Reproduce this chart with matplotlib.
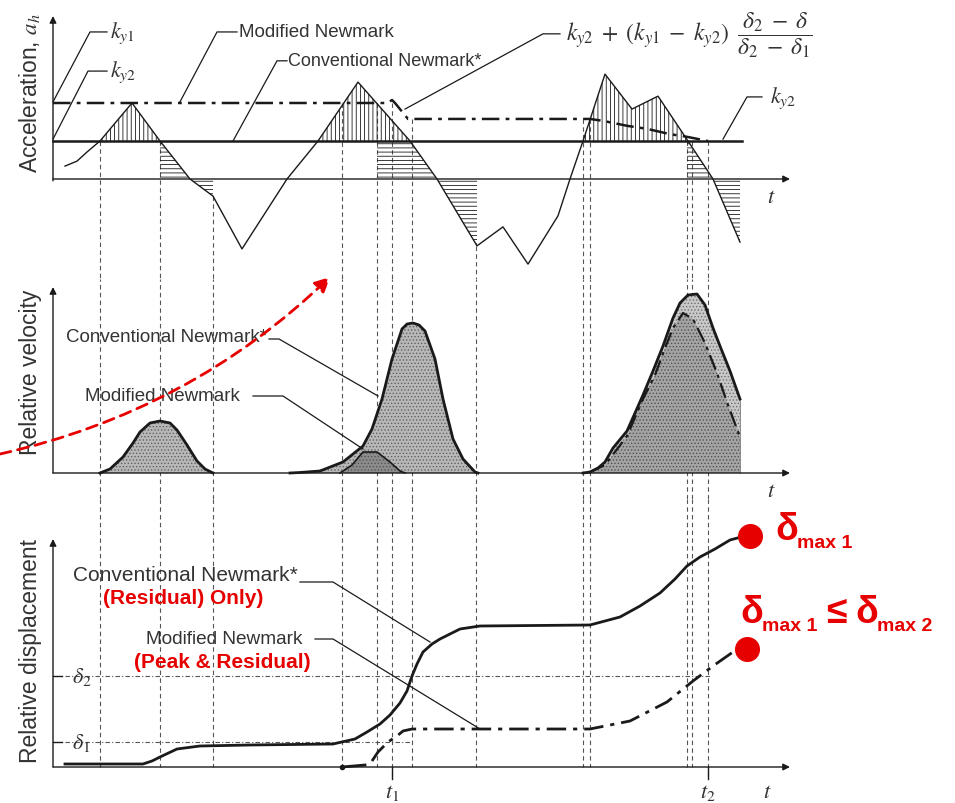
import matplotlib.pyplot as plt
import numpy as np

plt.rcParams['font.family'] = ['Liberation Sans', 'DejaVu Sans']
plt.rcParams['mathtext.fontset'] = 'stix'
plt.rcParams['hatch.linewidth'] = 0.6

#### data (time t, acceleration a, velocity v, displacement d : arbitrary units)
ky1, ky2 = 0.2, 0.1

acc_t = [1.2, 2.4, 3.4, 4.7, 7.9, 10.7, 13.7, 16.0, 18.9, 23.4, 26.5, 30.5, 35.7, 38.4,
         42.4, 45.0, 47.5, 50.5, 51.7, 53.0, 55.2, 57.9, 60.5, 63.5, 66.0, 68.7]
acc_a = [0.034, 0.047, 0.071, 0.100, 0.200, 0.100, 0.000, -0.045, -0.184, 0.000, 0.100,
         0.255, 0.100, 0.000, -0.176, -0.126, -0.224, -0.097, 0.000, 0.100, 0.276, 0.184,
         0.218, 0.100, 0.000, -0.166]

mod_ky_t = [0, 33.5, 33.9, 34.2, 35.5, 53.7, 55.0, 57.4, 59.4, 61.7, 63.4, 65.5]
mod_ky_a = [0.2, 0.2, 0.208, 0.2, 0.158, 0.158, 0.153, 0.140, 0.132, 0.118, 0.111, 0.100]
conv_ky_t = [0, 68.9]

# hatched windows below ky2 (horizontal hatch)
slide_win = [(10.7, 16.0), (32.4, 42.4), (63.4, 68.7)]

vel1_t = [4.7, 5.7, 7.0, 8.0, 8.7, 9.7, 10.7, 11.7, 12.4, 13.4, 14.4, 15.2, 16.0]
vel1_v = [0, 0.04, 0.16, 0.30, 0.41, 0.50, 0.52, 0.50, 0.43, 0.28, 0.12, 0.04, 0]
vel2_t = [23.7, 24.7, 26.7, 29.0, 31.0, 31.9, 32.9, 33.9, 34.9, 35.4, 36.0, 36.6, 37.2,
          38.2, 39.0, 40.0, 41.0, 42.2, 42.5]
vel2_v = [0, 0.005, 0.02, 0.11, 0.27, 0.44, 0.74, 1.14, 1.44, 1.49, 1.50, 1.48, 1.42,
          1.14, 0.74, 0.34, 0.14, 0.01, 0]
vel2m_t = [28.7, 29.9, 31.0, 32.4, 33.7, 34.7, 35.2]
vel2m_v = [0, 0.08, 0.21, 0.21, 0.11, 0.02, 0]
vel3_t = [53.0, 53.7, 54.5, 55.2, 56.0, 57.4, 59.0, 60.0, 61.0, 62.0, 62.7, 63.5, 64.4,
          65.2, 66.0, 66.7, 67.7, 68.7]
vel3_v = [0, 0.01, 0.05, 0.11, 0.25, 0.42, 0.78, 1.02, 1.27, 1.55, 1.70, 1.78, 1.79,
          1.68, 1.45, 1.27, 1.02, 0.74]
vel3m_t = [53.7, 55.2, 57.4, 59.0, 60.2, 61.2, 62.0, 63.0, 64.0, 65.2, 66.4, 67.5, 68.7]
vel3m_v = [0.01, 0.08, 0.37, 0.74, 0.98, 1.25, 1.45, 1.60, 1.54, 1.30, 1.00, 0.68, 0.36]

disp_t = [1.2, 9.0, 9.9, 10.7, 12.4, 14.7, 19.7, 28.0, 30.2, 31.4, 32.7, 33.7, 34.7, 35.4,
          35.9, 36.4, 37.0, 37.9, 38.7, 40.7, 42.7, 53.7, 56.7, 58.7, 60.7, 62.2, 63.4,
          64.7, 66.2, 67.7, 69.2]
disp_d = [0.03, 0.03, 0.06, 0.10, 0.18, 0.21, 0.22, 0.23, 0.28, 0.35, 0.43, 0.52, 0.64,
          0.76, 0.91, 1.03, 1.15, 1.23, 1.28, 1.38, 1.41, 1.42, 1.50, 1.61, 1.74, 1.88,
          2.01, 2.10, 2.18, 2.27, 2.31]
dispm0_t = [28.9, 31.2]
dispm0_d = [0, 0.02]
dispm_t = [31.9, 32.5, 33.5, 34.4, 35.0, 35.9, 42.7, 53.7, 57.7, 61.4, 64.0, 66.0, 68.0]
dispm_d = [0.06, 0.15, 0.25, 0.31, 0.36, 0.38, 0.38, 0.38, 0.46, 0.65, 0.86, 1.01, 1.15]
delta1, delta2 = 0.25, 0.91
t1, t2 = 33.9, 65.5
dmax1 = (69.7, 2.31)
dmax2 = (69.4, 1.18)

guide_t = [4.7, 10.7, 16.0, 28.9, 32.4, 33.9, 35.9, 42.3, 53.0, 53.7, 63.4, 63.9, 65.5]
guide_a0 = [0.1, 0.1, -0.045, 0.2, 0.2, 0.2, 0.158, -0.176, 0.158, 0.158, 0.1, 0.1, 0.1]

#### figure
W, H = 955, 804
fig = plt.figure(figsize=(W / 100, H / 100), dpi=100)

def band(top, bot):
    return [0, 1 - bot / H, 1, (bot - top) / H]

TLIM = (-5.3, 90.2)
ax1 = fig.add_axes(band(0, 280))
ax2 = fig.add_axes(band(280, 500))
ax3 = fig.add_axes(band(500, 804))
ax1.set_ylim(-0.2632, 0.4737)
ax2.set_ylim(-0.26, 1.94)
ax3.set_ylim(-0.36, 2.68)
for ax in (ax1, ax2, ax3):
    ax.set_xlim(*TLIM)
    ax.axis('off')

ink = '#1a1a1a'
txt = '#333333'
red = '#e60000'
guide_kw = dict(color='#555555', lw=0.8, ls=(0, (4, 3)), zorder=1)
arrow_kw = dict(arrowstyle='-|>', color=ink, lw=1.0, mutation_scale=10, shrinkA=0, shrinkB=0)
dashdot = [7, 2.5, 1.5, 2.5]

def axes_arrows(ax, ytop, ybot=0):
    ax.annotate('', xy=(73.7, 0), xytext=(0, 0), arrowprops=arrow_kw)
    ax.annotate('', xy=(0, ytop), xytext=(0, ybot), arrowprops=arrow_kw)

# guide lines
for tg, a0 in zip(guide_t, guide_a0):
    ax1.plot([tg, tg], [a0, -0.2632], **guide_kw)
    ax2.axvline(tg, **guide_kw)
    bot = -0.12 if tg in (t1, t2) else 0
    ax3.plot([tg, tg], [2.68, bot], **guide_kw)

#### acceleration panel
acc_t_arr = np.array(acc_t)
acc_a_arr = np.array(acc_a)
ax1.fill_between(acc_t_arr, ky2, acc_a_arr, where=acc_a_arr >= ky2, facecolor='none',
                 edgecolor=ink, hatch='||||', lw=0)
low = np.minimum(acc_a_arr, ky2)
for w0, w1 in slide_win:
    pc = ax1.fill_between(acc_t_arr, 0, low, facecolor='none', edgecolor=ink,
                          hatch='----', lw=0)
    clip = plt.Rectangle((w0, -1), w1 - w0, 2, transform=ax1.transData, visible=False)
    ax1.add_patch(clip)
    pc.set_clip_path(clip)
ax1.plot(acc_t, acc_a, color=ink, lw=1.0, zorder=4)
ax1.plot(conv_ky_t, [ky2, ky2], color=ink, lw=1.8, zorder=4)
ax1.plot(mod_ky_t, mod_ky_a, color=ink, lw=1.8, dashes=dashdot, zorder=5)
axes_arrows(ax1, 0.429, -0.005)

lead = dict(color=ink, lw=0.9)
ax1.plot([0, 3.7, 5.4], [0.203, 0.387, 0.387], **lead)
ax1.text(5.7, 0.387, r'$k_{y1}$', fontsize=16, va='center', color=txt)
ax1.plot([0, 3.5, 5.4], [0.105, 0.284, 0.284], **lead)
ax1.text(5.7, 0.284, r'$k_{y2}$', fontsize=16, va='center', color=txt)
ax1.plot([12.7, 16.4, 18.4], [0.203, 0.387, 0.387], **lead)
ax1.text(18.6, 0.387, 'Modified Newmark', fontsize=13.5, va='center', color=txt)
ax1.plot([18.0, 22.4, 23.4], [0.1, 0.311, 0.311], **lead)
ax1.text(23.5, 0.311, 'Conventional Newmark*', fontsize=13, va='center', color=txt)
ax1.plot([35.2, 49.0, 50.7], [0.184, 0.382, 0.382], **lead)
ax1.text(51.3, 0.382,
         r'$k_{y2}\;+\;(k_{y1}\;-\;k_{y2})\;\;\dfrac{\delta_2\;-\;\delta}{\delta_2\;-\;\delta_1}$',
         fontsize=17, va='center', color=txt)
ax1.plot([67.0, 69.4, 70.9], [0.105, 0.216, 0.216], **lead)
ax1.text(71.7, 0.216, r'$k_{y2}$', fontsize=16, va='center', color=txt)
ax1.text(71.4, -0.045, r'$t$', fontsize=16, va='center', color=txt)
ax1.text(-2.3, 0.228, r'Acceleration, $a_h$', rotation=90, fontsize=16.5,
         ha='center', va='center', color=txt)

#### velocity panel
stip = dict(facecolor='#b8b8b8', edgecolor='#606060', hatch='.....', lw=0)
ax2.fill_between(vel1_t, 0, vel1_v, **stip)
ax2.fill_between(vel2_t, 0, vel2_v, **stip)
ax2.fill_between(vel3_t, 0, vel3_v, facecolor='#c8c8c8', edgecolor='#707070',
                 hatch='.....', lw=0)
ax2.fill_between(vel2m_t, 0, vel2m_v, facecolor='#8c8c8c', edgecolor='#555555',
                 hatch='.....', lw=0)
ax2.fill_between(vel3m_t, 0, vel3m_v, facecolor='#a4a4a4', edgecolor='#505050',
                 hatch='.....', lw=0)
ax2.plot(vel1_t, vel1_v, color=ink, lw=2.0, zorder=4)
ax2.plot(vel2_t, vel2_v, color=ink, lw=2.0, zorder=4)
ax2.plot(vel3_t, vel3_v, color=ink, lw=2.0, zorder=4)
ax2.plot(vel2m_t, vel2m_v, color=ink, lw=1.2, zorder=4)
ax2.plot(vel3m_t, vel3m_v, color=ink, lw=1.6, dashes=dashdot, zorder=4)
ax2.plot([vel3_t[-1], vel3_t[-1]], [0, vel3_v[-1]], color='#777777', lw=0.6)
axes_arrows(ax2, 1.86)

ax2.plot([21.6, 22.6, 32.5], [1.34, 1.34, 0.77], **lead)
ax2.text(21.4, 1.36, 'Conventional Newmark*', fontsize=13.5, ha='right', va='center',
         color=txt)
ax2.plot([20.0, 23.0, 31.0], [0.77, 0.77, 0.24], **lead)
ax2.text(18.7, 0.77, 'Modified Newmark', fontsize=13.5, ha='right', va='center',
         color=txt)
ax2.text(71.4, -0.18, r'$t$', fontsize=16, va='center', color=txt)
ax2.text(-2.3, 1.02, 'Relative velocity', rotation=90, fontsize=16.5,
         ha='center', va='center', color=txt)

ax2.annotate('', xy=(27.7, 1.96), xytext=(-5.3, 0.19), annotation_clip=False,
             arrowprops=dict(arrowstyle='-|>', color=red, lw=2.0, ls=(0, (4, 2.5)),
                             mutation_scale=22, shrinkA=0, shrinkB=0,
                             connectionstyle='arc3,rad=0.14'))

#### displacement panel
ax3.plot([1.2, 65.7], [delta2, delta2], color='#555555', lw=0.8, ls=(0, (4, 2, 1, 2)))
ax3.plot([1.2, 35.9], [delta1, delta1], color='#555555', lw=0.8, ls=(0, (4, 2, 1, 2)))
ax3.plot([0, 0.9], [delta2, delta2], color=ink, lw=1.0)
ax3.plot([0, 0.9], [delta1, delta1], color=ink, lw=1.0)
ax3.text(1.9, delta2, r'$\delta_2$', fontsize=16, va='center', color=txt)
ax3.text(1.9, delta1, r'$\delta_1$', fontsize=16, va='center', color=txt)

ax3.plot(disp_t, disp_d, color=ink, lw=2.0, zorder=4)
ax3.plot(dispm0_t, dispm0_d, color=ink, lw=2.0, zorder=4)
ax3.plot([dispm0_t[0]], [dispm0_d[0]], 'o', color=ink, ms=3)
ax3.plot(dispm_t, dispm_d, color=ink, lw=2.0, dashes=dashdot, zorder=4)
axes_arrows(ax3, 2.28)
ax3.plot([t1, t1], [0, -0.12], color=ink, lw=1.0)
ax3.plot([t2, t2], [0, -0.12], color=ink, lw=1.0)
ax3.text(t1, -0.25, r'$t_1$', fontsize=16, ha='center', va='center', color=txt)
ax3.text(t2, -0.25, r'$t_2$', fontsize=16, ha='center', va='center', color=txt)
ax3.text(71.0, -0.25, r'$t$', fontsize=16, va='center', color=txt)
ax3.text(-2.3, 1.17, 'Relative displacement', rotation=90, fontsize=16.5,
         ha='center', va='center', color=txt)

ax3.plot([24.7, 28.0, 37.7], [1.85, 1.85, 1.25], **lead)
ax3.text(24.5, 1.92, 'Conventional Newmark*', fontsize=15, ha='right', va='center',
         color=txt)
ax3.text(13.0, 1.69, '(Residual) Only)', fontsize=15, fontweight='bold', ha='center',
         va='center', color=red)
ax3.plot([26.2, 28.0, 42.7], [1.28, 1.28, 0.38], **lead)
ax3.text(24.9, 1.28, 'Modified Newmark', fontsize=13.7, ha='right', va='center',
         color=txt)
ax3.text(16.9, 1.05, '(Peak & Residual)', fontsize=15, fontweight='bold', ha='center',
         va='center', color=red)

ax3.scatter(*dmax1, s=290, color=red, zorder=6, clip_on=False)
ax3.scatter(*dmax2, s=290, color=red, zorder=6, clip_on=False)
big = dict(fontsize=27, fontweight='bold', color=red, va='baseline')
small = dict(fontsize=14, fontweight='bold', color=red, va='baseline')
ax3.text(72.2, 2.28, 'δ', **big)
ax3.text(74.4, 2.20, 'max 1', **small)
ax3.text(68.7, 1.45, 'δ', **big)
ax3.text(70.9, 1.37, 'max 1', **small)
ax3.text(77.3, 1.45, '≤', **big)
ax3.text(80.2, 1.45, 'δ', **big)
ax3.text(82.4, 1.37, 'max 2', **small)

fig.savefig('out.png', dpi=100)
